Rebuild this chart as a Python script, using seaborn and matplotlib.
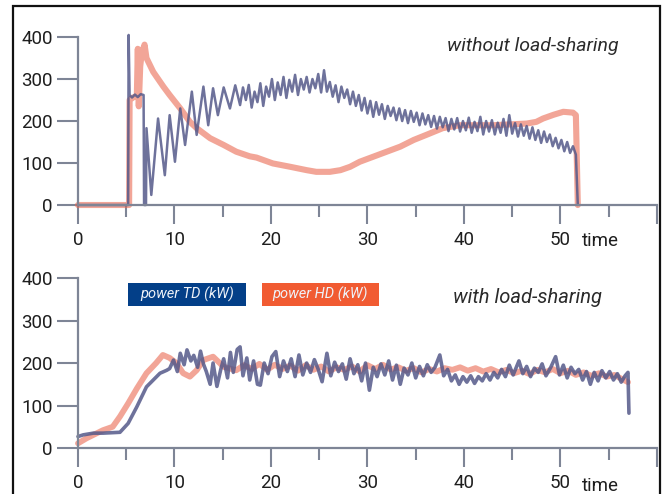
import matplotlib
matplotlib.use("Agg")
import matplotlib.pyplot as plt
from matplotlib.patches import Rectangle
from matplotlib.ticker import FixedLocator, MultipleLocator
import numpy as np
import pandas as pd
import seaborn as sns

# top panel - without load-sharing (time, kW)
# start-up part, irregular times
top_td_start_t = [0, 5.2, 5.25, 5.35, 5.6, 5.9, 6.2, 6.5, 6.8, 6.85, 7.05, 7.1, 7.6, 8.3, 9.0,
                  9.5, 10.05, 10.6, 11.1, 11.8, 12.3, 13.0, 13.5, 14.0, 14.5, 15.1, 15.75, 16.3]
top_td_start_kw = [0, 0, 405, 262, 256, 263, 257, 264, 262, 0, 0, 183, 24, 206, 71,
                   214, 103, 230, 143, 270, 167, 282, 190, 278, 214, 280, 230, 285]
# then one reading every 0.3 time units from t = 16.8
top_td_run_kw = [238, 280, 250, 286, 232, 270, 245, 290, 236, 282,
                 258, 300, 250, 292, 262, 305, 255, 298, 270, 310,
                 262, 300, 275, 305, 268, 300, 278, 312, 268, 321,
                 270, 293, 258, 285, 245, 282, 255, 275, 240, 270,
                 236, 262, 225, 255, 218, 248, 210, 245, 215, 240,
                 205, 236, 212, 232, 202, 230, 200, 226, 195, 224,
                 198, 220, 190, 218, 192, 214, 186, 212, 182, 210,
                 185, 207, 176, 205, 180, 207, 175, 200, 178, 208,
                 172, 198, 176, 210, 168, 200, 175, 202, 168, 196,
                 172, 205, 165, 214, 170, 195, 163, 192, 165, 188,
                 158, 185, 155, 178, 148, 175, 150, 168, 140, 160,
                 135, 155, 128, 150, 124, 140, 120]
top_td_end_t = [51.8]
top_td_end_kw = [0]

top_hd_t = [0, 5.3, 5.35, 5.7, 6.1, 6.2, 6.3, 6.45, 6.6, 6.9, 7.1, 7.8, 8.85, 9.5, 10.6,
            11.6, 12.3, 13.7, 15.1, 16.4, 17.8, 18.5, 20.2, 22.0, 23.7, 24.7, 26.1, 27.2,
            28.2, 29.2, 30.6, 32.0, 33.4, 34.8, 36.1, 37.8, 39.6, 41.3, 43.0, 44.8, 46.5,
            47.5, 48.2, 49.3, 50.3, 51.3, 51.6, 51.8]
top_hd_kw = [0, 0, 250, 256, 260, 372, 235, 330, 360, 382, 350, 317, 282, 262, 230,
             198, 183, 159, 143, 127, 116, 113, 99, 91, 83, 79, 79, 83,
             91, 103, 115, 127, 139, 155, 167, 183, 190, 190, 190, 192, 194,
             198, 206, 215, 222, 220, 214, 0]

# bottom panel - with load-sharing
bot_td_t = [0.0, 0.55, 1.6, 2.6, 3.5, 4.35, 5.2, 6.1, 7.1, 7.8, 8.5, 9.2, 9.5, 9.9,
            10.3, 10.6, 11.0, 11.3, 11.7, 12.0, 12.4, 12.7, 13.0, 13.3, 13.7, 14.0, 14.4,
            14.8, 15.1, 15.5, 15.8, 16.1, 16.5, 16.8, 17.1, 17.5, 17.8, 18.2, 18.6, 18.9,
            19.3, 19.7, 20.1, 20.5, 20.9, 21.3, 21.7, 22.1, 22.5, 22.9, 23.3, 23.7, 24.1,
            24.5, 24.9, 25.3, 25.8, 26.2, 26.6, 27.0, 27.4, 27.8, 28.2, 28.6, 29.0, 29.4,
            29.8, 30.2, 30.6, 31.0, 31.4, 31.8, 32.2, 32.6, 33.0, 33.4, 33.8, 34.2, 34.6,
            35.0, 35.4, 35.8, 36.2, 36.6, 37.0, 37.5, 37.9, 38.3, 38.7, 39.1, 39.5, 39.9,
            40.3, 40.7, 41.1, 41.5, 41.9, 42.3, 42.7, 43.1, 43.5, 43.9, 44.3, 44.7, 45.1,
            45.7, 46.1, 46.5, 46.9, 47.3, 47.7, 48.1, 48.5, 49.0, 49.5, 49.9, 50.3, 50.7,
            51.1, 51.5, 51.9, 52.3, 52.7, 53.1, 53.5, 53.9, 54.3, 54.7, 55.1, 55.5, 55.9,
            56.3, 56.7, 57.0, 57.1]
bot_td_kw = [27, 31, 35, 35, 36, 37, 58, 97, 144, 160, 176, 183, 187, 207,
             180, 223, 196, 231, 205, 218, 190, 228, 198, 180, 150, 200, 145,
             185, 210, 165, 225, 178, 232, 238, 170, 212, 160, 205, 150, 148,
             200, 175, 215, 227, 168, 205, 180, 210, 168, 219, 172, 200, 178,
             208, 185, 156, 223, 170, 202, 180, 198, 162, 210, 175, 196, 158,
             200, 136, 190, 168, 198, 172, 205, 160, 195, 150, 188, 172, 200,
             165, 192, 170, 196, 178, 190, 219, 170, 185, 158, 172, 150, 168,
             155, 170, 152, 168, 158, 175, 160, 178, 165, 185, 168, 195, 172,
             205, 175, 192, 168, 188, 178, 198, 170, 190, 215, 172, 195, 165,
             190, 175, 185, 160, 180, 150, 178, 158, 182, 165, 180, 160, 175,
             155, 170, 178, 82]

bot_hd_t = [0.0, 0.9, 2.6, 3.6, 4.35, 5.2, 6.1, 7.1, 8.1, 8.8, 9.5, 10.2, 10.9, 11.6,
            12.3, 13.0, 14.0, 15.1, 16.4, 17.2, 18.0, 18.8, 19.6, 20.4, 21.2, 22.0, 22.8,
            23.6, 24.4, 25.2, 26.0, 26.8, 27.6, 28.4, 29.2, 30.0, 30.8, 31.6, 32.4, 33.2,
            34.0, 34.8, 35.6, 36.4, 37.2, 38.0, 38.8, 39.6, 40.4, 41.2, 42.0, 42.8, 43.6,
            44.4, 45.2, 46.0, 46.8, 47.6, 48.4, 49.2, 50.0, 50.8, 51.6, 52.4, 53.2, 54.0,
            54.8, 55.6, 56.4, 57.0]
bot_hd_kw = [11, 23, 42, 50, 74, 105, 140, 176, 200, 219, 212, 200, 176, 168,
             183, 207, 215, 191, 183, 195, 186, 198, 184, 196, 186, 194, 182,
             195, 184, 192, 180, 190, 184, 192, 180, 195, 186, 196, 185, 190,
             182, 188, 178, 186, 180, 188, 184, 190, 182, 188, 180, 186, 178,
             184, 176, 182, 174, 184, 178, 186, 176, 182, 172, 178, 170, 176,
             168, 172, 162, 155]

x_ticks = [0, 10, 20, 30, 40, 50, 60]
x_tick_labels = ["0", "10", "20", "30", "40", "50", ""]
y_ticks = [0, 100, 200, 300, 400]
panel_titles = ["without load-sharing", "with load-sharing"]
series_names = ["power TD (kW)", "power HD (kW)"]

td_line = "#55598A"
hd_line = "#EA6A52"
td_box = "#033F88"
hd_box = "#F15B32"
axis_gray = "#7E8596"

# sampling times of the regular part of the top TD trace
top_td_run_t = list(np.round(16.8 + 0.3 * np.arange(len(top_td_run_kw)), 2))
top_td_t = top_td_start_t + top_td_run_t + top_td_end_t
top_td_kw = top_td_start_kw + top_td_run_kw + top_td_end_kw

sns.set_theme(style="white")
plt.rcParams["font.family"] = ["Roboto", "DejaVu Sans"]

fig = plt.figure(figsize=(6.67, 4.94), dpi=100)
ax_top = fig.add_axes([0.1169, 0.585, 0.868, 0.340])
ax_bot = fig.add_axes([0.1169, 0.0931, 0.868, 0.344])

panels = [
    (ax_top, top_td_t, top_td_kw, top_hd_t, top_hd_kw, 1.8, 4.4),
    (ax_bot, bot_td_t, bot_td_kw, bot_hd_t, bot_hd_kw, 2.6, 4.2),
]

for ax, td_t, td_kw, hd_t, hd_kw, td_lw, hd_lw in panels:
    hd = pd.DataFrame({"time": hd_t, "kW": hd_kw})
    td = pd.DataFrame({"time": td_t, "kW": td_kw})
    sns.lineplot(data=hd, x="time", y="kW", ax=ax, color=hd_line, lw=hd_lw, alpha=0.6,
                 estimator=None, sort=False)
    sns.lineplot(data=td, x="time", y="kW", ax=ax, color=td_line, lw=td_lw, alpha=0.85,
                 estimator=None, sort=False)
    for line in ax.get_lines():
        line.set_clip_on(False)

    ax.set_xlim(0, 60)
    ax.set_ylim(0, 400)
    ax.set_xlabel("")
    ax.set_ylabel("")
    ax.spines[["right", "top"]].set_visible(False)
    for side in ["left", "bottom"]:
        ax.spines[side].set_color(axis_gray)
        ax.spines[side].set_linewidth(1.6)
    ax.xaxis.set_major_locator(FixedLocator(x_ticks))
    ax.set_xticklabels(x_tick_labels)
    ax.xaxis.set_minor_locator(MultipleLocator(5))
    ax.set_yticks(y_ticks)
    ax.tick_params(axis="x", which="major", direction="out", length=14, width=1.5,
                   color=axis_gray, pad=5, labelsize=13.5, labelcolor="#1e1e1e", bottom=True)
    ax.tick_params(axis="x", which="minor", direction="out", length=8.5, width=1.5,
                   color=axis_gray, bottom=True)
    ax.tick_params(axis="y", direction="out", length=15, width=1.5, color=axis_gray,
                   pad=3, labelsize=13.5, labelcolor="#1e1e1e", left=True)
    ax.set_facecolor("white")

# "time" after the 50 label
for y in [0.512, 0.016]:
    fig.text(0.8726, y, "time", fontsize=13.5, color="#1e1e1e", va="center", ha="left")

# panel captions
fig.text(0.6702, 0.8968, panel_titles[0], fontsize=14, style="italic", color="#2b2b2b",
         va="baseline")
fig.text(0.679, 0.3866, panel_titles[1], fontsize=14.5, style="italic", color="#2b2b2b",
         va="baseline")

# legend boxes, solid colour tags above the lower panel
for x0, w, col, name in [(0.1919, 0.1769, td_box, series_names[0]),
                         (0.3928, 0.1754, hd_box, series_names[1])]:
    tag = Rectangle((x0, 0.3806), w, 0.0466, transform=fig.transFigure,
                    facecolor=col, edgecolor=col, linewidth=0, zorder=10, clip_on=False)
    ax_bot.add_patch(tag)
    ax_bot.text(x0 + w / 2, 0.4038, name, transform=fig.transFigure, fontsize=10.5,
                style="italic", color="#EEF2F8", ha="center", va="center", zorder=11)

# outer frame
fig.add_artist(Rectangle((12.5 / 667, -0.05), (660 - 12.5) / 667, 1.05 - 6.5 / 494,
                         transform=fig.transFigure, fill=False, edgecolor="#111111",
                         linewidth=1.6, clip_on=False, zorder=10))

fig.savefig("out.png", dpi=100, facecolor="white")
